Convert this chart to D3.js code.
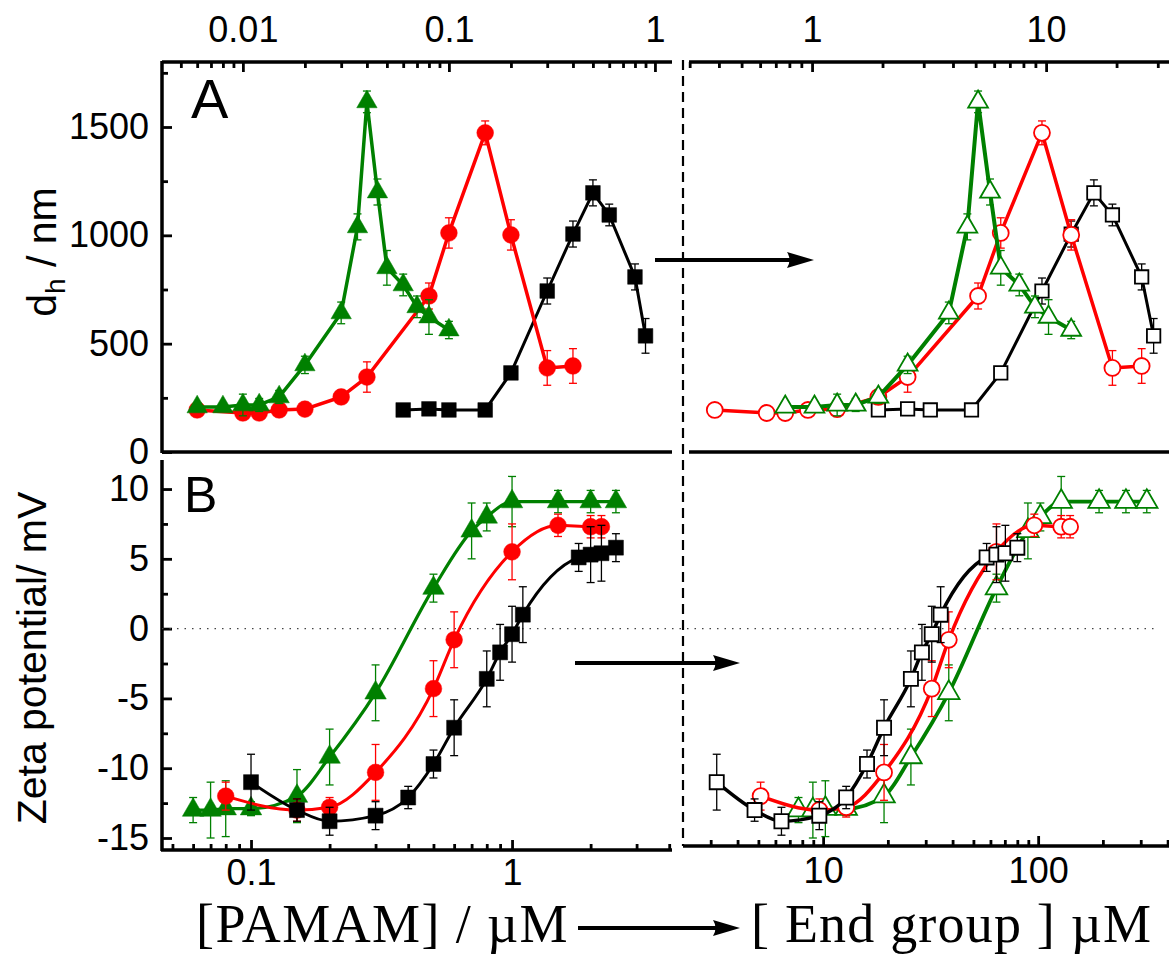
<!DOCTYPE html>
<html>
<head>
<meta charset="utf-8">
<script src="https://cdn.jsdelivr.net/npm/d3@7"></script>
<style>
  body { margin: 0; background: #fff; }
  svg { display: block; }
</style>
</head>
<body>
<svg id="chart" width="1169" height="955"></svg>
<script>
// Panel A: hydrodynamic diameter (nm) vs concentration, three dendrimer series
var aBlackPamam = [0.06, 0.08, 0.1, 0.15, 0.2, 0.3, 0.4, 0.5, 0.6, 0.8, 0.9];
var aBlackEnd = [1.92, 2.56, 3.2, 4.8, 6.4, 9.6, 12.8, 16, 19.2, 25.6, 28.8];
var aBlackSize = [194, 199, 194, 194, 365, 743, 1006, 1196, 1094, 808, 536];
var aBlackErr = [15, 15, 15, 15, 20, 60, 60, 60, 50, 60, 80];

var aRedPamam = [0.006, 0.01, 0.012, 0.015, 0.02, 0.03, 0.04, 0.08, 0.1, 0.15, 0.2, 0.3, 0.4];
var aRedEnd = [0.384, 0.64, 0.768, 0.96, 1.28, 1.92, 2.56, 5.12, 6.4, 9.6, 12.8, 19.2, 25.6];
var aRedSize = [194, 180, 180, 194, 198, 254, 346, 720, 1011, 1473, 1002, 388, 397];
var aRedErr = [20, 20, 20, 20, 20, 20, 70, 60, 70, 55, 70, 80, 80];

var aGreenPamam = [0.006, 0.008, 0.01, 0.012, 0.015, 0.02, 0.03, 0.036, 0.04, 0.045, 0.05, 0.06, 0.07, 0.08, 0.1];
var aGreenEnd = [0.768, 1.024, 1.28, 1.536, 1.92, 2.56, 3.84, 4.608, 5.12, 5.76, 6.4, 7.68, 8.96, 10.24, 12.8];
var aGreenSize = [208, 208, 217, 217, 254, 402, 642, 1039, 1616, 1200, 850, 771, 670, 623, 563];
var aGreenErr = [20, 15, 50, 30, 30, 40, 50, 60, 50, 60, 80, 50, 50, 80, 40];

// Panel B: zeta potential (mV)
var bBlackPamam = [0.1, 0.15, 0.2, 0.3, 0.4, 0.5, 0.6, 0.8, 0.9, 1, 1.1, 1.8, 2, 2.2, 2.5];
var bBlackEnd = [3.2, 4.8, 6.4, 9.6, 12.8, 16, 19.2, 25.6, 28.8, 32, 35.2, 57.6, 64, 70.4, 80];
var bBlackZeta = [-11.0, -13.0, -13.8, -13.4, -12.1, -9.7, -7.1, -3.6, -1.7, -0.4, 1.0, 5.1, 5.3, 5.4, 5.8];
var bBlackErr = [2.0, 0.8, 1.0, 1.0, 0.8, 1.0, 2.0, 2.0, 2.0, 2.0, 2.0, 1.0, 2.0, 2.0, 1.0];

var bRedPamam = [0.08, 0.15, 0.2, 0.3, 0.5, 0.6, 1, 1.5, 2, 2.2];
var bRedEnd = [5.12, 9.6, 12.8, 19.2, 32, 38.4, 64, 96, 128, 140.8];
var bRedZeta = [-12.0, -13.0, -12.8, -10.3, -4.3, -0.8, 5.5, 7.4, 7.3, 7.3];
var bRedErr = [1.0, 0.8, 0.7, 2.0, 2.0, 2.0, 2.0, 0.8, 0.8, 0.8];

var bGreenPamam = [0.06, 0.07, 0.08, 0.1, 0.15, 0.2, 0.3, 0.5, 0.7, 0.8, 1, 1.5, 2, 2.5];
var bGreenEnd = [7.68, 8.96, 10.24, 12.8, 19.2, 25.6, 38.4, 64, 89.6, 102.4, 128, 192, 256, 320];
var bGreenZeta = [-13.0, -13.0, -12.9, -12.9, -12.0, -9.2, -4.6, 2.9, 7.0, 8.0, 9.1, 9.1, 9.1, 9.1];
var bGreenErr = [0.9, 2.0, 2.0, 0.5, 1.9, 2.0, 2.0, 1.0, 2.0, 1.0, 1.8, 0.8, 0.8, 0.8];

// tick labels
var aTopLeftTicks = [0.01, 0.1, 1];
var aTopRightTicks = [1, 10];
var aSizeTicks = [0, 500, 1000, 1500];
var aSizeMinor = [250, 750, 1250, 1750];
var bBottomLeftTicks = [0.1, 1];
var bBottomRightTicks = [10, 100];
var bZetaTicks = [-15, -10, -5, 0, 5, 10];
var bZetaMinor = [-12.5, -7.5, -2.5, 2.5, 7.5];

var svg = d3.select("#chart");
var sans = "'Liberation Sans', Arial, Helvetica, sans-serif";
var serif = "'Liberation Serif', 'Times New Roman', serif";

var colBlack = "#000000", colRed = "#ff0000", colGreen = "#008000";

// scales (range = frame extents)
var xA1 = d3.scaleLog().domain([0.00405, 1.21]).range([162, 672]);
var xA2 = d3.scaleLog().domain([0.298, 33.5]).range([689, 1169]);
var yA = d3.scaleLinear().domain([0, 1800]).range([452, 62]);
var xB1 = d3.scaleLog().domain([0.0456, 4.10]).range([162, 672]);
var xB2 = d3.scaleLog().domain([2.23, 406]).range([683, 1169]);
var yB = d3.scaleLinear().domain([-15.86, 12.08]).range([850, 460]);

function hline(x0, x1, y, w) {
    svg.append("line").attr("x1", x0).attr("x2", x1).attr("y1", y).attr("y2", y)
        .attr("stroke", "#000").attr("stroke-width", w || 3.5);
}
function vline(x, y0, y1, w) {
    svg.append("line").attr("x1", x).attr("x2", x).attr("y1", y0).attr("y2", y1)
        .attr("stroke", "#000").attr("stroke-width", w || 3.5);
}

function logMinor(scale) {
    return scale.ticks().filter(function(t) {
        var l = Math.log10(t);
        return Math.abs(l - Math.round(l)) > 1e-6;
    });
}

function axisLayer(axisGen, transform) {
    var g = svg.append("g").attr("transform", transform).call(axisGen);
    g.select(".domain").remove();
    g.selectAll("line").attr("stroke", "#000").attr("stroke-width", 2.8);
    g.selectAll("text").attr("font-family", sans).attr("font-size", 36).attr("fill", "#000");
    return g;
}
var plain = function(d) { return String(d); };

// frames
hline(162, 672, 62);
hline(162, 672, 452);
vline(162, 61, 453);
hline(689, 1169, 62);
hline(689, 1169, 452);
vline(162, 460, 851);
hline(161, 672, 850);
hline(683, 1169, 846);

// dashed divider
svg.append("line").attr("x1", 683).attr("x2", 683).attr("y1", 60).attr("y2", 846)
    .attr("stroke", "#000").attr("stroke-width", 2.2).attr("stroke-dasharray", "10,6");

// axes: panel A top (left and right)
axisLayer(d3.axisTop(xA1).tickValues(logMinor(xA1)).tickSize(-6).tickFormat(""), "translate(0,62)");
axisLayer(d3.axisTop(xA1).tickValues(aTopLeftTicks).tickSize(-10).tickPadding(20).tickFormat(plain), "translate(0,62)");
axisLayer(d3.axisTop(xA2).tickValues(logMinor(xA2)).tickSize(-6).tickFormat(""), "translate(0,62)");
axisLayer(d3.axisTop(xA2).tickValues(aTopRightTicks).tickSize(-10).tickPadding(20).tickFormat(plain), "translate(0,62)");

// panel A left y
axisLayer(d3.axisLeft(yA).tickValues(aSizeMinor).tickSize(-6).tickFormat(""), "translate(162,0)");
axisLayer(d3.axisLeft(yA).tickValues(aSizeTicks).tickSize(-10).tickPadding(13).tickFormat(plain), "translate(162,0)");

// panel B bottom axes
axisLayer(d3.axisBottom(xB1).tickValues(logMinor(xB1)).tickSize(-6).tickFormat(""), "translate(0,850)");
axisLayer(d3.axisBottom(xB1).tickValues(bBottomLeftTicks).tickSize(-10).tickPadding(9).tickFormat(plain), "translate(0,850)");
axisLayer(d3.axisBottom(xB2).tickValues(logMinor(xB2)).tickSize(-6).tickFormat(""), "translate(0,846)");
axisLayer(d3.axisBottom(xB2).tickValues(bBottomRightTicks).tickSize(-10).tickPadding(11).tickFormat(plain), "translate(0,846)");

// panel B left y
axisLayer(d3.axisLeft(yB).tickValues(bZetaMinor).tickSize(-6).tickFormat(""), "translate(162,0)");
axisLayer(d3.axisLeft(yB).tickValues(bZetaTicks).tickSize(-10).tickPadding(13).tickFormat(plain), "translate(162,0)");

// zero line in B
svg.append("line").attr("x1", 162).attr("x2", 1155).attr("y1", yB(0)).attr("y2", yB(0))
    .attr("stroke", "#444").attr("stroke-width", 1.4).attr("stroke-dasharray", "1.5,6");

// series
function drawSeries(xs, ys, errs, xScale, yScale, opt) {
    var g = svg.append("g");
    var pts = xs.map(function(x, i) { return { x: x, y: ys[i], e: errs[i] }; });
    var line = d3.line()
        .x(function(d) { return xScale(d.x); })
        .y(function(d) { return yScale(d.y); })
        .curve(opt.smooth ? d3.curveMonotoneX : d3.curveLinear);
    g.append("path").datum(pts).attr("d", line)
        .attr("fill", "none").attr("stroke", opt.color).attr("stroke-width", opt.lineW)
        .attr("stroke-linejoin", "round");
    var eb = g.selectAll(".eb").data(pts).enter().append("g")
        .attr("stroke", opt.color).attr("stroke-width", 1.3);
    eb.append("line")
        .attr("x1", function(d) { return xScale(d.x); })
        .attr("x2", function(d) { return xScale(d.x); })
        .attr("y1", function(d) { return yScale(d.y - d.e); })
        .attr("y2", function(d) { return yScale(d.y + d.e); });
    [-1, 1].forEach(function(s) {
        eb.append("line")
            .attr("x1", function(d) { return xScale(d.x) - 4; })
            .attr("x2", function(d) { return xScale(d.x) + 4; })
            .attr("y1", function(d) { return yScale(d.y + s * d.e); })
            .attr("y2", function(d) { return yScale(d.y + s * d.e); });
    });
    var sym = d3.symbol().type(opt.shape).size(opt.size);
    g.selectAll(".mk").data(pts).enter().append("path")
        .attr("d", sym)
        .attr("transform", function(d) { return "translate(" + xScale(d.x) + "," + yScale(d.y) + ")"; })
        .attr("fill", opt.open ? "#fff" : opt.color)
        .attr("stroke", opt.color)
        .attr("stroke-width", opt.open ? 1.8 : 0.5);
}

// panel A left (filled)
drawSeries(aBlackPamam, aBlackSize, aBlackErr, xA1, yA, { color: colBlack, shape: d3.symbolSquare, size: 215, lineW: 3 });
drawSeries(aRedPamam, aRedSize, aRedErr, xA1, yA, { color: colRed, shape: d3.symbolCircle, size: 220, lineW: 3.5 });
drawSeries(aGreenPamam, aGreenSize, aGreenErr, xA1, yA, { color: colGreen, shape: d3.symbolTriangle, size: 180, lineW: 3.5 });
// panel A right (open)
drawSeries(aBlackEnd, aBlackSize, aBlackErr, xA2, yA, { color: colBlack, shape: d3.symbolSquare, size: 180, lineW: 3, open: true });
drawSeries(aRedEnd, aRedSize, aRedErr, xA2, yA, { color: colRed, shape: d3.symbolCircle, size: 200, lineW: 3.5, open: true });
drawSeries(aGreenEnd, aGreenSize, aGreenErr, xA2, yA, { color: colGreen, shape: d3.symbolTriangle, size: 170, lineW: 4, open: true });
// panel B left (filled, smooth)
drawSeries(bGreenPamam, bGreenZeta, bGreenErr, xB1, yB, { color: colGreen, shape: d3.symbolTriangle, size: 200, lineW: 3.2, smooth: true });
drawSeries(bRedPamam, bRedZeta, bRedErr, xB1, yB, { color: colRed, shape: d3.symbolCircle, size: 220, lineW: 3, smooth: true });
drawSeries(bBlackPamam, bBlackZeta, bBlackErr, xB1, yB, { color: colBlack, shape: d3.symbolSquare, size: 225, lineW: 3, smooth: true });
// panel B right (open, smooth)
drawSeries(bGreenEnd, bGreenZeta, bGreenErr, xB2, yB, { color: colGreen, shape: d3.symbolTriangle, size: 200, lineW: 3.8, smooth: true, open: true });
drawSeries(bRedEnd, bRedZeta, bRedErr, xB2, yB, { color: colRed, shape: d3.symbolCircle, size: 200, lineW: 3.5, smooth: true, open: true });
drawSeries(bBlackEnd, bBlackZeta, bBlackErr, xB2, yB, { color: colBlack, shape: d3.symbolSquare, size: 200, lineW: 3.5, smooth: true, open: true });

// arrows
function arrow(x1, x2, y) {
    svg.append("line").attr("x1", x1).attr("x2", x2 - 18).attr("y1", y).attr("y2", y)
        .attr("stroke", "#000").attr("stroke-width", 4);
    svg.append("path")
        .attr("d", "M" + x2 + "," + y + " L" + (x2 - 27) + "," + (y - 8) +
            " Q" + (x2 - 22) + "," + y + " " + (x2 - 27) + "," + (y + 8) + " Z")
        .attr("fill", "#000");
}
arrow(655, 814, 260);
arrow(575, 740, 663);
arrow(578, 740, 928);

// panel letters
svg.append("text").attr("x", 191).attr("y", 118).attr("font-family", sans).attr("font-size", 56).text("A");
svg.append("text").attr("x", 184).attr("y", 512).attr("font-family", sans).attr("font-size", 50).text("B");

// y titles
var yt = svg.append("text").attr("transform", "translate(56,252) rotate(-90)")
    .attr("text-anchor", "middle").attr("font-family", sans).attr("font-size", 41);
yt.append("tspan").text("d");
yt.append("tspan").attr("font-size", 28).attr("dy", 9).text("h");
yt.append("tspan").attr("dy", -9).text(" / nm");

svg.append("text").attr("transform", "translate(46,658) rotate(-90)")
    .attr("text-anchor", "middle").attr("font-family", sans).attr("font-size", 41)
    .text("Zeta potential/ mV");

// x titles
svg.append("text").attr("x", 196).attr("y", 942).attr("font-family", serif).attr("font-size", 54)
    .attr("letter-spacing", 1.4).text("[PAMAM] / \u00b5M");
svg.append("text").attr("x", 751).attr("y", 942).attr("font-family", serif).attr("font-size", 54)
    .attr("letter-spacing", 1.2).text("[ End group ] \u00b5M");
</script>
</body>
</html>
